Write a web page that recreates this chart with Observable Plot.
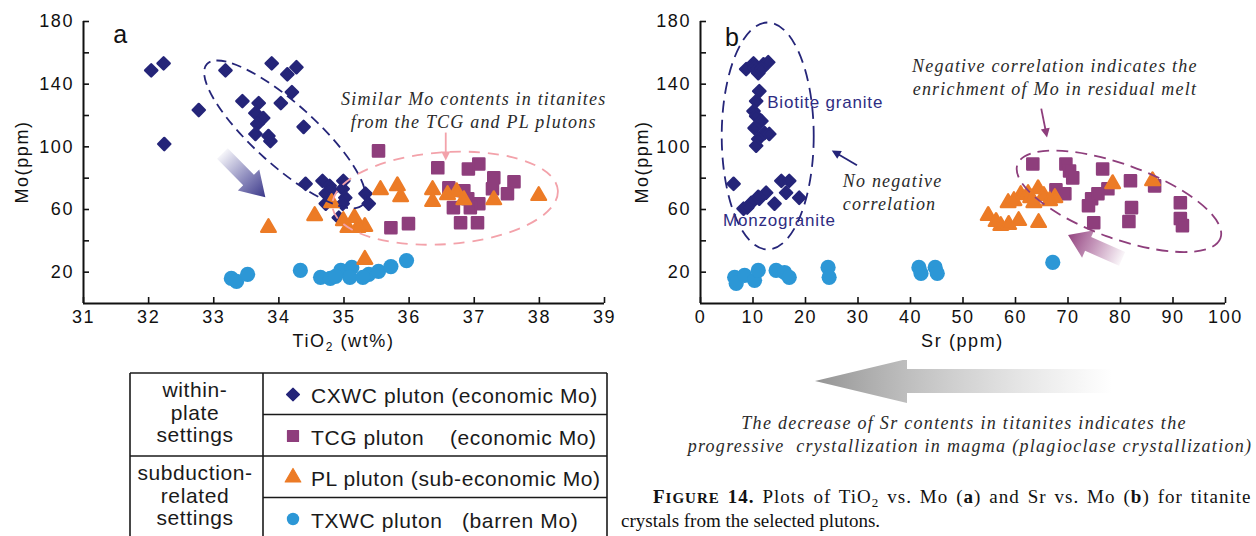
<!DOCTYPE html>
<html>
<head>
<meta charset="utf-8">
<script src="https://cdn.jsdelivr.net/npm/d3@7"></script>
<script src="https://cdn.jsdelivr.net/npm/@observablehq/plot@0.6"></script>
<style>
  html, body { margin: 0; padding: 0; background: #fff; }
  #fig { position: relative; width: 1256px; height: 536px; overflow: hidden; background: #fff; }
  #fig svg { position: absolute; overflow: visible; }
</style>
</head>
<body>
<div id="fig"></div>
<script>
// ---------- axes ----------
const moDomain = [0, 180];
const moTicks = [20, 40, 60, 80, 100, 120, 140, 160, 180];
const moLabelled = [20, 60, 100, 140, 180];
const tiDomain = [31, 39];
const tiTicks = [31, 32, 33, 34, 35, 36, 37, 38, 39];
const srDomain = [0, 100];
const srTicks = [0, 10, 20, 30, 40, 50, 60, 70, 80, 90, 100];

// ---------- panel a: TiO2 (wt%) vs Mo (ppm) ----------
const cxwcTiO2 = [32.04, 32.23, 32.24, 32.77, 33.18, 33.44, 33.69, 33.64, 33.76, 33.67, 33.64, 33.84, 33.87, 34.03, 33.89, 34.13, 34.27, 34.20, 34.38,
                  34.41, 34.67, 34.78, 34.72, 34.81, 34.99, 34.98, 35.02, 34.98, 34.72, 35.33, 35.38, 34.92];
const cxwcMoA  = [148.8, 153.3, 101.8, 123.5, 148.8, 129.2, 127.9, 121.5, 118.4, 114.6, 108.2, 106.9, 103.7, 127.9, 153.3, 146.3, 150.8, 134.9, 112.7,
                  76.4, 78.3, 75.1, 70.1, 72.0, 78.3, 73.2, 67.5, 63.7, 63.7, 70.1, 63.7, 54.8];
const tcgTiO2  = [35.53, 36.44, 36.91, 37.07, 36.61, 36.84, 37.30, 37.61, 37.28, 37.51, 36.68, 36.90, 37.07, 36.94, 36.79, 37.05, 35.72, 35.99];
const tcgMoA   = [97.4, 86.6, 85.9, 89.1, 73.9, 72.0, 80.3, 77.7, 73.2, 70.1, 61.2, 66.9, 63.7, 61.2, 51.6, 51.6, 48.4, 51.0];
const plTiO2   = [33.84, 34.55, 34.81, 34.99, 35.16, 35.32, 35.06, 35.21, 35.56, 35.82, 35.87, 36.36, 36.36, 36.59, 36.73, 36.84, 37.30, 37.99, 35.32];
const plMoA    = [48.4, 56.0, 64.3, 52.8, 54.8, 49.1, 48.4, 48.4, 72.6, 75.1, 68.1, 72.6, 65.0, 69.4, 71.3, 66.2, 66.2, 68.8, 28.1];
const txwcTiO2 = [33.27, 33.35, 33.52, 34.33, 34.64, 34.79, 34.95, 35.12, 35.09, 35.38, 35.53, 35.72, 35.96, 34.87, 35.29];
const txwcMoA  = [16.0, 14.1, 18.6, 21.1, 16.7, 16.0, 21.1, 23.0, 16.7, 18.6, 20.5, 23.6, 27.4, 17.3, 16.7];

// ---------- panel b: Sr (ppm) vs Mo (ppm) ----------
const cxwcSr  = [8.7, 10.1, 11.0, 12.0, 12.9, 10.3, 11.6,
                 11.2, 10.6, 10.1, 10.6, 11.6, 10.3, 12.2, 13.1, 11.0, 10.6,
                 6.3, 8.2, 9.7, 11.2, 12.5, 14.1, 15.4, 16.9, 16.3, 18.8, 8.9, 11.0];
const cxwcMoB = [149.6, 153.3, 147.0, 152.7, 154.0, 150.2, 149.6,
                 135.5, 129.2, 122.8, 119.6, 116.5, 112.0, 108.8, 108.2, 105.0, 100.7,
                 76.4, 60.5, 64.3, 66.9, 70.7, 63.7, 78.3, 78.3, 70.7, 67.5, 61.2, 68.1];
const tcgSr   = [63.3, 69.6, 70.3, 70.9, 76.6, 81.9, 86.5, 91.4, 91.4, 91.8, 82.1, 81.6, 74.9, 74.5, 75.7, 77.6, 73.9, 67.7, 69.4];
const tcgMoB  = [89.1, 89.1, 84.6, 80.2, 85.9, 78.3, 75.1, 64.3, 54.2, 49.7, 61.2, 52.3, 51.6, 66.9, 70.1, 73.2, 62.4, 72.6, 70.1];
const plSr    = [54.8, 56.3, 57.2, 58.7, 60.6, 64.4, 58.6, 61.0, 62.4, 64.3, 65.4, 67.5, 63.5, 66.5, 78.5, 86.1, 62.9, 59.7];
const plMoB   = [56.1, 52.3, 49.7, 50.4, 52.9, 51.6, 64.3, 69.4, 70.1, 73.2, 68.8, 67.5, 64.3, 65.6, 76.4, 78.3, 67.5, 65.6];
const txwcSr  = [6.5, 6.8, 8.4, 10.3, 11.0, 14.4, 16.0, 16.9, 24.3, 24.5, 41.6, 42.0, 44.7, 45.1, 67.1];
const txwcMoB = [16.7, 12.8, 18.0, 14.8, 21.1, 21.1, 19.8, 16.7, 23.0, 16.7, 23.0, 19.2, 23.0, 19.2, 26.2];

// ---------- legend ----------
const plutonKeys  = ["CXWC", "TCG", "PL", "TXWC"];
const plutonNames = ["CXWC pluton", "TCG pluton", "PL pluton", "TXWC pluton"];
const plutonNotes = ["(economic Mo)", "(economic Mo)", "(sub-economic Mo)", "(barren Mo)"];
const settingGroups = [["within-", "plate", "settings"], ["subduction-", "related", "settings"]];

// ---------- styles ----------
const SANS = "'Liberation Sans', Arial, sans-serif";
const SERIF = "'Liberation Serif', 'Times New Roman', serif";
const navy = "#252579", purple = "#8e3e7c", orange = "#ec7b26", sky = "#2c97d6", pink = "#f3a2aa";
const look = {
  CXWC: {color: navy,   symbol: "diamond2", r: 5.5, sw: 2.4},
  TCG:  {color: purple, symbol: "square",   r: 6.3, sw: 2.4},
  PL:   {color: orange, symbol: "triangle", r: 5.4, sw: 2.4},
  TXWC: {color: sky,    symbol: "circle",   r: 7.6, sw: 0}
};
const drawOrder = ["TXWC", "CXWC", "TCG", "PL"];

const zip = (xs, ys) => xs.map((x, i) => ({x, y: ys[i]}));
const rowsA = {CXWC: zip(cxwcTiO2, cxwcMoA), TCG: zip(tcgTiO2, tcgMoA), PL: zip(plTiO2, plMoA), TXWC: zip(txwcTiO2, txwcMoA)};
const rowsB = {CXWC: zip(cxwcSr, cxwcMoB), TCG: zip(tcgSr, tcgMoB), PL: zip(plSr, plMoB), TXWC: zip(txwcSr, txwcMoB)};

// ---------- annotation helpers (positions in data units, via the plot scales) ----------
let gradCount = 0;
function arrowShape(g, ax, ay, bx, by, body, head, headLen, fill) {
  const L = Math.hypot(bx - ax, by - ay), ux = (bx - ax) / L, uy = (by - ay) / L, nx = -uy, ny = ux;
  const kx = bx - ux * headLen, ky = by - uy * headLen;
  const p = [[ax + nx * body / 2, ay + ny * body / 2], [kx + nx * body / 2, ky + ny * body / 2], [kx + nx * head / 2, ky + ny * head / 2],
             [bx, by], [kx - nx * head / 2, ky - ny * head / 2], [kx - nx * body / 2, ky - ny * body / 2], [ax - nx * body / 2, ay - ny * body / 2]];
  g.append("polygon").attr("points", p.map(d => d.join(",")).join(" ")).attr("fill", fill);
}
function fadeArrowPx(g, ax, ay, bx, by, {body, head, headLen, stops}) {
  const id = "fade" + (gradCount++);
  const grad = g.append("defs").append("linearGradient").attr("id", id).attr("gradientUnits", "userSpaceOnUse")
    .attr("x1", ax).attr("y1", ay).attr("x2", bx).attr("y2", by);
  for (const [o, c, a] of stops) grad.append("stop").attr("offset", o).attr("stop-color", c).attr("stop-opacity", a);
  arrowShape(g, ax, ay, bx, by, body, head, headLen, `url(#${id})`);
}
const ellipse = (e) => (_, {x: X, y: Y}) => d3.create("svg:ellipse")
  .attr("rx", e.rx).attr("ry", e.ry).attr("transform", `translate(${X(e.x)},${Y(e.y)}) rotate(${e.angle})`)
  .attr("fill", "none").attr("stroke", e.stroke).attr("stroke-width", 1.8).attr("stroke-dasharray", e.dash).node();
const thinArrow = (a) => (_, {x: X, y: Y}) => {
  const g = d3.create("svg:g");
  const ax = X(a.x1), ay = Y(a.y1), bx = X(a.x2), by = Y(a.y2);
  const L = Math.hypot(bx - ax, by - ay), ux = (bx - ax) / L, uy = (by - ay) / L;
  g.append("line").attr("x1", ax).attr("y1", ay).attr("x2", bx - ux * 6).attr("y2", by - uy * 6)
    .attr("stroke", a.stroke).attr("stroke-width", 1.8);
  arrowShape(g, bx - ux * 9, by - uy * 9, bx, by, 0.1, 9, 9, a.stroke);
  return g.node();
};
const fadeArrow = (a) => (_, {x: X, y: Y}) => {
  const g = d3.create("svg:g");
  fadeArrowPx(g, X(a.x1), Y(a.y1), X(a.x2), Y(a.y2), a);
  return g.node();
};
const note = (t) => (_, {x: X, y: Y}) => {
  const g = d3.create("svg:g");
  t.lines.forEach((line, i) => g.append("text")
    .attr("x", X(t.x)).attr("y", Y(t.y) + i * (t.lead || 0))
    .attr("text-anchor", t.anchor || "start")
    .attr("font-family", t.family || SANS).attr("font-size", t.size)
    .attr("font-style", t.italic ? "italic" : null)
    .attr("letter-spacing", t.spacing || 0)
    .attr("fill", t.fill || "#222").text(line));
  return g.node();
};
// axis titles placed relative to the frame
const axisTitles = (xParts, yOffset) => (_, {x: X, y: Y}) => {
  const g = d3.create("svg:g").attr("font-family", SANS).attr("font-size", 18).attr("letter-spacing", 1.6).attr("fill", "#111");
  const [x0, x1] = X.domain();
  const t = g.append("text").attr("x", (X(x0) + X(x1)) / 2).attr("y", Y(0) + 44).attr("text-anchor", "middle");
  let shifted = 0;
  for (const [s, sub] of xParts) {
    const dy = (sub ? 4 : 0) - shifted;
    shifted = sub ? 4 : 0;
    t.append("tspan").attr("font-size", sub ? 12 : null).attr("dy", dy).text(s);
  }
  g.append("text").attr("transform", `translate(${X(x0) + yOffset},${Y(90)}) rotate(-90)`)
    .attr("text-anchor", "middle").text("Mo(ppm)");
  return g.node();
};

function panel({rows, xDomain, xTicks, width, left, marginLeft, marginRight, annotations}) {
  const plot = Plot.plot({
    width, height: 360,
    marginLeft, marginRight, marginTop: 21, marginBottom: 57,
    x: {domain: xDomain},
    y: {domain: moDomain},
    style: {fontFamily: SANS, fontSize: "18px", color: "#111", background: "transparent", overflow: "visible"},
    marks: [
      Plot.axisX({ticks: xTicks, tickSize: -6, tickPadding: 13, strokeWidth: 1.6, label: null}),
      Plot.axisY({ticks: moTicks, tickFormat: d => moLabelled.includes(d) ? String(d) : "", tickSize: -6, tickPadding: 15.5, strokeWidth: 1.6, label: null}),
      Plot.ruleY([moDomain[0]], {stroke: "#111", strokeWidth: 2}),
      Plot.ruleX([xDomain[0]], {stroke: "#111", strokeWidth: 2}),
      ...drawOrder.map(k => Plot.dot(rows[k], {
        x: "x", y: "y", symbol: look[k].symbol, r: look[k].r,
        fill: look[k].color, stroke: look[k].sw ? look[k].color : "none",
        strokeWidth: look[k].sw, strokeLinejoin: "round"
      })),
      ...annotations
    ]
  });
  d3.select(plot).style("left", left + "px").style("top", "0px");
  d3.select(plot).selectAll("g[aria-label$='tick label'] text").attr("letter-spacing", 1.6);
  document.getElementById("fig").append(plot);
}

// panel a
panel({
  rows: rowsA, xDomain: tiDomain, xTicks: tiTicks, width: 620, left: 0, marginLeft: 83, marginRight: 16,
  annotations: [
    ellipse({x: 34.10, y: 107.6, rx: 105, ry: 31, angle: 42, stroke: navy, dash: "10 6"}),
    ellipse({x: 36.56, y: 66.9, rx: 113, ry: 46, angle: -4, stroke: pink, dash: "11 8"}),
    thinArrow({x1: 36.57, y1: 108.8, x2: 36.57, y2: 91.0, stroke: pink}),
    fadeArrow({x1: 33.14, y1: 95.5, x2: 33.80, y2: 67.5, body: 15, head: 30, headLen: 24,
               stops: [[0, "#3f3c90", 0.05], [0.55, "#3f3c90", 0.6], [1, "#3a3788", 1]]}),
    note({x: 31.57, y: 166.1, lines: ["a"], size: 25, anchor: "middle", fill: "#111"}),
    note({x: 37.0, y: 126.6, lines: ["Similar Mo contents in titanites", "from the TCG and PL plutons"], lead: 23.5,
          family: SERIF, italic: true, size: 18, spacing: 1.2, anchor: "middle", fill: "#2a2a2a"}),
    axisTitles([["TiO", false], ["2", true], [" (wt%)", false]], -55)
  ]
});

// panel b
panel({
  rows: rowsB, xDomain: srDomain, xTicks: srTicks, width: 636, left: 620, marginLeft: 80, marginRight: 31,
  annotations: [
    ellipse({x: 12.9, y: 106.6, rx: 46, ry: 113.5, angle: 0, stroke: navy, dash: "12 7"}),
    ellipse({x: 79.8, y: 64.9, rx: 108, ry: 37, angle: 20, stroke: purple, dash: "12 7"}),
    thinArrow({x1: 29.9, y1: 87.9, x2: 25.1, y2: 97.4, stroke: navy}),
    thinArrow({x1: 65.0, y1: 124.1, x2: 66.1, y2: 105.7, stroke: purple}),
    fadeArrow({x1: 80.4, y1: 28.1, x2: 70.1, y2: 43.4, body: 15, head: 30, headLen: 22,
               stops: [[0, "#9a4a88", 0.05], [0.55, "#9a4a88", 0.6], [1, "#93447f", 1]]}),
    note({x: 6.08, y: 164.2, lines: ["b"], size: 25, anchor: "middle", fill: "#111"}),
    note({x: 12.8, y: 124.7, lines: ["Biotite granite"], size: 17, spacing: 0.8, fill: "#2e2c82"}),
    note({x: 4.4, y: 49.1, lines: ["Monzogranite"], size: 17, spacing: 0.8, fill: "#2e2c82"}),
    note({x: 27.2, y: 73.9, lines: ["No negative", "correlation"], lead: 23, family: SERIF, italic: true, size: 18, spacing: 1.2, fill: "#2a2a2a"}),
    note({x: 67.6, y: 147.6, lines: ["Negative correlation indicates the", "enrichment of Mo in residual melt"], lead: 23,
          family: SERIF, italic: true, size: 18, spacing: 1.2, anchor: "middle", fill: "#2a2a2a"}),
    axisTitles([["Sr (ppm)", false]], -52)
  ]
});

// ---------- lower strip: legend table, trend arrow, notes and caption ----------
const low = d3.create("svg").attr("width", 1256).attr("height", 176)
  .style("left", "0px").style("top", "360px").style("overflow", "hidden");

// legend table
const T = {x0: 130, x1: 607, xm: 263, top: 13, row: 41.5};
const tbl = low.append("g").attr("stroke", "#1a1a1a").attr("stroke-width", 1.6).attr("fill", "none");
tbl.append("line").attr("x1", T.x0).attr("x2", T.x1).attr("y1", T.top).attr("y2", T.top);
tbl.append("line").attr("x1", T.x0).attr("x2", T.x0).attr("y1", T.top).attr("y2", 200);
tbl.append("line").attr("x1", T.x1).attr("x2", T.x1).attr("y1", T.top).attr("y2", 200);
tbl.append("line").attr("x1", T.xm).attr("x2", T.xm).attr("y1", T.top).attr("y2", 200);
tbl.append("line").attr("x1", T.xm).attr("x2", T.x1).attr("y1", T.top + T.row).attr("y2", T.top + T.row);
tbl.append("line").attr("x1", T.x0).attr("x2", T.x1).attr("y1", T.top + 2 * T.row).attr("y2", T.top + 2 * T.row);
tbl.append("line").attr("x1", T.xm).attr("x2", T.x1).attr("y1", T.top + 3 * T.row).attr("y2", T.top + 3 * T.row);

const legText = low.append("g").attr("font-family", SANS).attr("font-size", 21).attr("letter-spacing", 0.6).attr("fill", "#1a1a1a");
settingGroups.forEach((lines, gi) => lines.forEach((s, li) => legText.append("text")
  .attr("x", 195).attr("y", 37 + gi * 2 * T.row + li * 22.5).attr("text-anchor", "middle").text(s)));
const symbolTypes = {diamond2: d3.symbolDiamond2, square: d3.symbolSquare, triangle: d3.symbolTriangle, circle: d3.symbolCircle};
const legSize = {CXWC: 5.8, TCG: 6.2, PL: 5.8, TXWC: 6.2};
const noteX = [null, 450, null, 462];
plutonKeys.forEach((k, i) => {
  const cy = T.top + i * T.row + 21.5;
  low.append("path").attr("transform", `translate(293,${cy})`)
    .attr("d", d3.symbol(symbolTypes[look[k].symbol], Math.PI * legSize[k] ** 2)())
    .attr("fill", look[k].color).attr("stroke", look[k].color).attr("stroke-width", k === "TXWC" ? 0 : 1.2)
    .attr("stroke-linejoin", "round");
  const t = legText.append("text").attr("x", 311).attr("y", cy + 8.5);
  if (noteX[i] == null) t.text(plutonNames[i] + " " + plutonNotes[i]);
  else {
    t.text(plutonNames[i]);
    legText.append("text").attr("x", noteX[i]).attr("y", cy + 8.5).text(plutonNotes[i]);
  }
});

// Sr-decrease arrow
fadeArrowPx(low.append("g"), 1112, 21, 815, 21, {body: 24, head: 44, headLen: 92,
  stops: [[0, "#c8c8c8", 0], [0.45, "#bdbdbd", 0.6], [1, "#8e8e8e", 0.95]]});

const italicNote = low.append("g").attr("font-family", SERIF).attr("font-style", "italic").attr("font-size", 18)
  .attr("letter-spacing", 1.3).attr("fill", "#2a2a2a").attr("text-anchor", "middle");
italicNote.append("text").attr("x", 964).attr("y", 69).text("The decrease of Sr contents in titanites indicates the");
italicNote.append("text").attr("x", 970).attr("y", 92).attr("xml:space", "preserve")
  .text("progressive  crystallization in magma (plagioclase crystallization)");

// caption (first line spread to the column width)
const cap = low.append("g").attr("font-family", SERIF).attr("font-size", 19).attr("fill", "#111");
const c1 = cap.append("text").attr("x", 653).attr("y", 143).attr("letter-spacing", 1.0).attr("word-spacing", 2.2);
c1.append("tspan").attr("font-weight", "bold").text("F");
c1.append("tspan").attr("font-weight", "bold").attr("font-size", 15).text("IGURE");
c1.append("tspan").attr("font-weight", "bold").text(" 14.");
c1.append("tspan").text(" Plots of TiO");
c1.append("tspan").attr("font-size", 13).attr("dy", 4).text("2");
c1.append("tspan").attr("dy", -4).text(" vs. Mo (");
c1.append("tspan").attr("font-weight", "bold").text("a");
c1.append("tspan").text(") and Sr vs. Mo (");
c1.append("tspan").attr("font-weight", "bold").text("b");
c1.append("tspan").text(") for titanite");
cap.append("text").attr("x", 621).attr("y", 167).text("crystals from the selected plutons.");

document.getElementById("fig").append(low.node());
</script>
</body>
</html>
